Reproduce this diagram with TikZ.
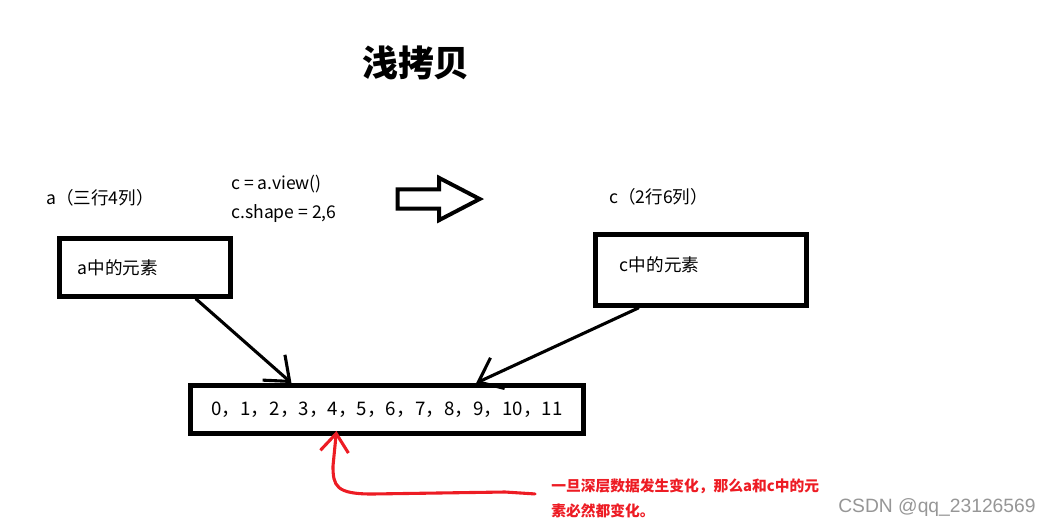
\documentclass[tikz,border=0pt]{standalone}
\usepackage{fontspec}
\usepackage{xcolor}
\usepackage{tikz}
\usetikzlibrary{shapes, arrows.meta, positioning, calc}
\newfontfamily\cjk{Noto Sans CJK SC}
\newfontfamily\wmfont{Liberation Sans}
\definecolor{notered}{RGB}{237,28,36}
\definecolor{wmgray}{RGB}{150,150,150}

\begin{document}
\begin{tikzpicture}[x=0.025cm, y=-0.025cm,
    labeltext/.style={font=\cjk\fontsize{12.5pt}{15pt}\selectfont, anchor=west, inner sep=0pt},
    membox/.style={draw, rectangle, line width=3.5pt, inner ysep=0pt, align=left,
                   font=\cjk\fontsize{12.5pt}{15pt}\selectfont},
    handarrow/.style={-{Straight Barb[length=15pt, width=24pt]}, line width=2.2pt,
                      line cap=round, line join=round}]
    \useasboundingbox (0,0) rectangle (1051,528);

    % Title
    \node[font=\cjk\bfseries\fontsize{25.5pt}{30pt}\selectfont] (title) at (416,63) {浅拷贝};

    % Shape labels and code
    \node[labeltext] (alabel) at (46,198) {a（三行4列）};
    \node[labeltext] (viewcode) at (231,184) {c = a.view()};
    \node[labeltext] (shapecode) at (231,214) {c.shape = 2,6};
    \node[labeltext] (clabel) at (609,197) {c（2行6列）};

    % Hollow arrow
    \node[draw, single arrow, line width=2.8pt, inner xsep=0pt, inner ysep=0.19cm,
          minimum height=2.05cm, single arrow head extend=0.29cm,
          single arrow tip angle=55] (viewarrow) at (429.5,199) {};

    % Views of the data
    \node[membox, minimum width=4.275cm, minimum height=1.45cm, text width=3.355cm,
          inner xsep=0.46cm] (boxa) at (145,267.5) {a中的元素};
    \node[membox, minimum width=5.275cm, minimum height=1.775cm, text width=4.055cm,
          inner xsep=0.61cm, text height=11pt, text depth=9.5pt] (boxc) at (701,270) {c中的元素};

    % Shared data
    \node[draw, rectangle, line width=3.5pt, minimum width=9.825cm, minimum height=1.2cm,
          font=\cjk\fontsize{13.3pt}{15pt}\selectfont] (elems) at (387,409.5)
        {0，1，2，3，4，5，6，7，8，9，10，11};

    % Both views point to the same elements
    \draw[handarrow] ($(boxa.south west)!0.79!(boxa.south east)$)
        -- ($(elems.north west)!0.26!(elems.north east)$);
    \draw[handarrow] ($(boxc.south west)!0.21!(boxc.south east)$)
        -- ($(elems.north west)!0.724!(elems.north east)$);

    % Note on changes
    \node[font=\cjk\bfseries\fontsize{10.5pt}{17.8pt}\selectfont, text=notered, align=left,
          anchor=north west, inner sep=0pt] (note) at (551,478)
        {一旦深层数据发生变化，那么a和c中的元\\素必然都变化。};
    \coordinate (notestart) at ($(note.west)+(-16,-4)$);
    \coordinate (redtip) at ($(elems.south west)!0.373!(elems.south east)+(0,-5)$);
    \draw[handarrow, notered, -{Straight Barb[length=13pt, width=20pt]}] (notestart)
        -- (505,492) -- (372,494) .. controls (336,494) and (333,486) .. (333,466) -- (redtip);

    % Watermark
    \node[font=\wmfont\fontsize{13.7pt}{16pt}\selectfont, text=wmgray, anchor=west,
          inner sep=0pt] (watermark) at (838,508) {CSDN @qq\_23126569};
\end{tikzpicture}
\end{document}
